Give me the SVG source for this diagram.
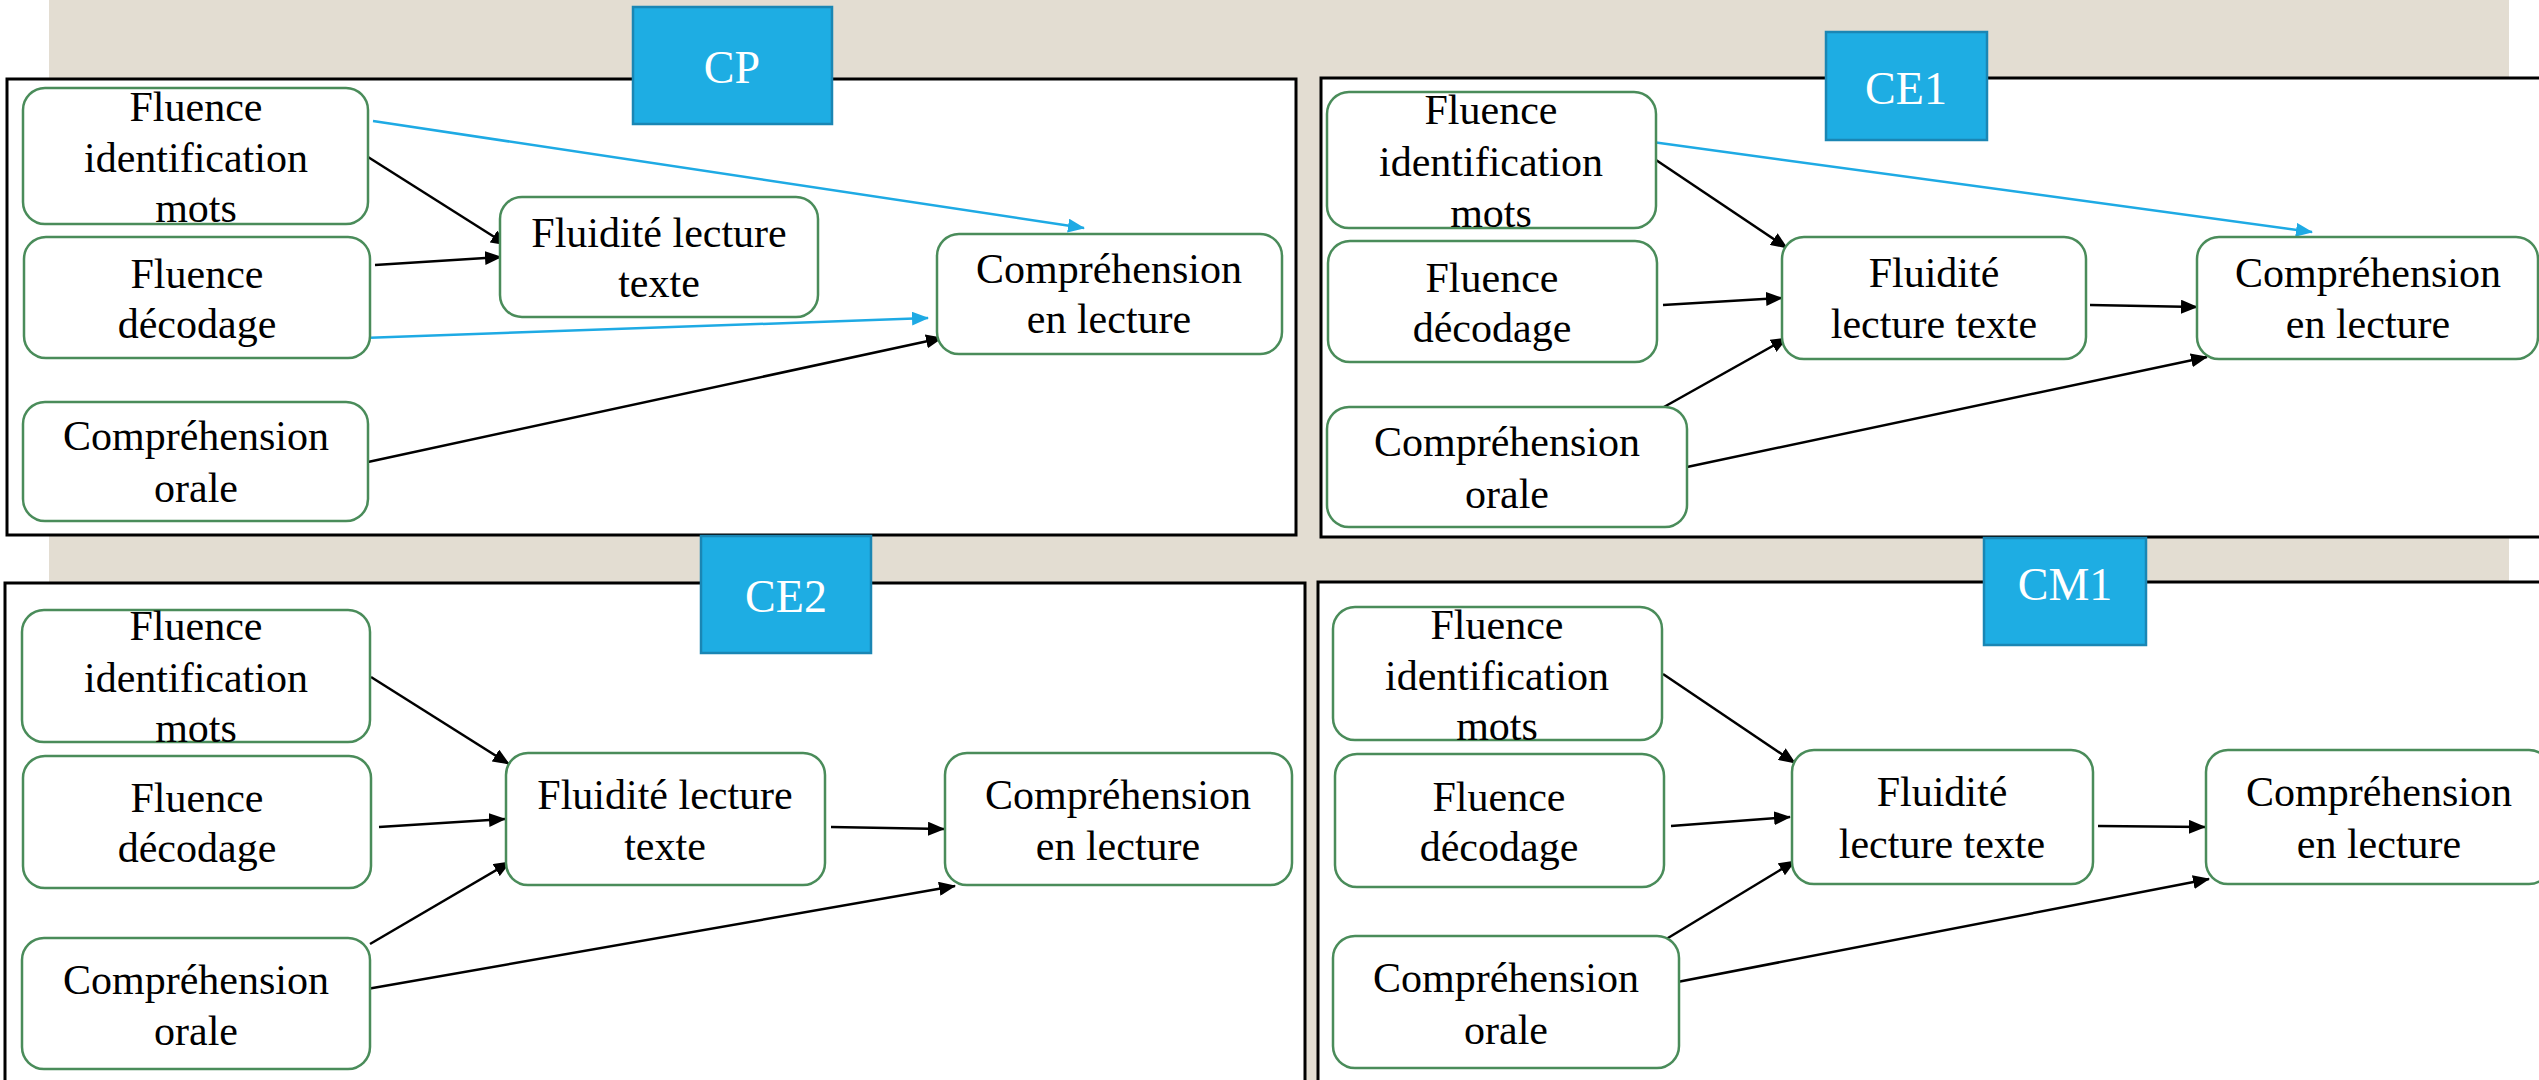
<svg xmlns="http://www.w3.org/2000/svg" width="2539" height="1080" viewBox="0 0 2539 1080">
<defs>
<style>
.panel{fill:#fff;stroke:#000;stroke-width:3}
.node rect{fill:#fff;stroke:#4A8C5A;stroke-width:2.5}
.node text{font-family:"Liberation Serif","Times New Roman",serif;font-size:42px;fill:#000;text-anchor:middle}
.label rect{fill:#1EADE3;stroke:#1A86B4;stroke-width:2.5}
.label text{font-family:"Liberation Serif","Times New Roman",serif;font-size:46px;fill:#fff;text-anchor:middle}
.k{stroke:#000;stroke-width:2.5;fill:none;marker-end:url(#ak)}
.b{stroke:#1EAAE4;stroke-width:2.5;fill:none;marker-end:url(#ab)}
</style>
<marker id="ak" markerUnits="userSpaceOnUse" markerWidth="18" markerHeight="14" refX="16" refY="7" orient="auto"><path d="M0,0 L17,7 L0,14 z" fill="#000"/></marker>
<marker id="ab" markerUnits="userSpaceOnUse" markerWidth="18" markerHeight="14" refX="16" refY="7" orient="auto"><path d="M0,0 L17,7 L0,14 z" fill="#1EAAE4"/></marker>
</defs>
<rect x="0" y="0" width="2539" height="1080" fill="#fff"/>
<rect x="49" y="0" width="2460" height="1080" fill="#E3DDD2"/>
<g id="panels">
<rect class="panel" x="7" y="79" width="1289" height="456"/>
<rect class="panel" x="1321" y="78" width="1230" height="459"/>
<rect class="panel" x="5" y="583" width="1300" height="510"/>
<rect class="panel" x="1318" y="582" width="1233" height="510"/>
</g>
<g id="connectors">
<line class="b" x1="373" y1="121" x2="1084" y2="228"/>
<line class="k" x1="368" y1="157" x2="507" y2="245"/>
<line class="k" x1="375" y1="265" x2="501" y2="257"/>
<line class="b" x1="363" y1="338" x2="928" y2="318"/>
<line class="k" x1="368" y1="462" x2="942" y2="338"/>
<line class="b" x1="1645" y1="141" x2="2312" y2="232"/>
<line class="k" x1="1656" y1="160" x2="1787" y2="248"/>
<line class="k" x1="1663" y1="305" x2="1782" y2="298"/>
<line class="k" x1="1655" y1="412" x2="1787" y2="338"/>
<line class="k" x1="1687" y1="467" x2="2207" y2="357"/>
<line class="k" x1="2090" y1="305" x2="2197" y2="307"/>
<line class="k" x1="371" y1="677" x2="509" y2="764"/>
<line class="k" x1="379" y1="827" x2="505" y2="819"/>
<line class="k" x1="370" y1="944" x2="510" y2="862"/>
<line class="k" x1="367" y1="989" x2="955" y2="886"/>
<line class="k" x1="831" y1="827" x2="944" y2="829"/>
<line class="k" x1="1663" y1="674" x2="1795" y2="763"/>
<line class="k" x1="1671" y1="826" x2="1790" y2="817"/>
<line class="k" x1="1663" y1="941" x2="1795" y2="861"/>
<line class="k" x1="1667" y1="984" x2="2209" y2="879"/>
<line class="k" x1="2098" y1="826" x2="2205" y2="827"/>
</g>
<!-- CP -->
<g id="cp-fim" class="node"><rect x="23" y="88" width="345" height="136" rx="22"/><text x="196" y="121">Fluence</text><text x="196" y="172">identification</text><text x="196" y="222">mots</text></g>
<g id="cp-fd" class="node"><rect x="24" y="237" width="346" height="121" rx="22"/><text x="197" y="288">Fluence</text><text x="197" y="338">décodage</text></g>
<g id="cp-co" class="node"><rect x="23" y="402" width="345" height="119" rx="22"/><text x="196" y="450">Compréhension</text><text x="196" y="502">orale</text></g>
<g id="cp-flu" class="node"><rect x="500" y="197" width="318" height="120" rx="22"/><text x="659" y="247">Fluidité lecture</text><text x="659" y="297">texte</text></g>
<g id="cp-comp" class="node"><rect x="937" y="234" width="345" height="120" rx="22"/><text x="1109" y="283">Compréhension</text><text x="1109" y="333">en lecture</text></g>
<g id="cp-label" class="label"><rect x="633" y="7" width="199" height="117"/><text x="732" y="83">CP</text></g>
<!-- CE1 -->
<g id="ce1-fim" class="node"><rect x="1327" y="92" width="329" height="136" rx="22"/><text x="1491" y="124">Fluence</text><text x="1491" y="176">identification</text><text x="1491" y="227">mots</text></g>
<g id="ce1-fd" class="node"><rect x="1328" y="241" width="329" height="121" rx="22"/><text x="1492" y="292">Fluence</text><text x="1492" y="342">décodage</text></g>
<g id="ce1-co" class="node"><rect x="1327" y="407" width="360" height="120" rx="22"/><text x="1507" y="456">Compréhension</text><text x="1507" y="508">orale</text></g>
<g id="ce1-flu" class="node"><rect x="1782" y="237" width="304" height="122" rx="22"/><text x="1934" y="287">Fluidité</text><text x="1934" y="338">lecture texte</text></g>
<g id="ce1-comp" class="node"><rect x="2197" y="237" width="341" height="122" rx="22"/><text x="2368" y="287">Compréhension</text><text x="2368" y="338">en lecture</text></g>
<g id="ce1-label" class="label"><rect x="1826" y="32" width="161" height="108"/><text x="1906" y="104">CE1</text></g>
<!-- CE2 -->
<g id="ce2-fim" class="node"><rect x="22" y="610" width="348" height="132" rx="22"/><text x="196" y="640">Fluence</text><text x="196" y="692">identification</text><text x="196" y="742">mots</text></g>
<g id="ce2-fd" class="node"><rect x="23" y="756" width="348" height="132" rx="22"/><text x="197" y="812">Fluence</text><text x="197" y="862">décodage</text></g>
<g id="ce2-co" class="node"><rect x="22" y="938" width="348" height="131" rx="22"/><text x="196" y="994">Compréhension</text><text x="196" y="1045">orale</text></g>
<g id="ce2-flu" class="node"><rect x="506" y="753" width="319" height="132" rx="22"/><text x="665" y="809">Fluidité lecture</text><text x="665" y="860">texte</text></g>
<g id="ce2-comp" class="node"><rect x="945" y="753" width="347" height="132" rx="22"/><text x="1118" y="809">Compréhension</text><text x="1118" y="860">en lecture</text></g>
<g id="ce2-label" class="label"><rect x="701" y="536" width="170" height="117"/><text x="786" y="612">CE2</text></g>
<!-- CM1 -->
<g id="cm1-fim" class="node"><rect x="1333" y="607" width="329" height="133" rx="22"/><text x="1497" y="639">Fluence</text><text x="1497" y="690">identification</text><text x="1497" y="740">mots</text></g>
<g id="cm1-fd" class="node"><rect x="1335" y="754" width="329" height="133" rx="22"/><text x="1499" y="811">Fluence</text><text x="1499" y="861">décodage</text></g>
<g id="cm1-co" class="node"><rect x="1333" y="936" width="346" height="132" rx="22"/><text x="1506" y="992">Compréhension</text><text x="1506" y="1044">orale</text></g>
<g id="cm1-flu" class="node"><rect x="1792" y="750" width="301" height="134" rx="22"/><text x="1942" y="806">Fluidité</text><text x="1942" y="858">lecture texte</text></g>
<g id="cm1-comp" class="node"><rect x="2206" y="750" width="345" height="134" rx="22"/><text x="2379" y="806">Compréhension</text><text x="2379" y="858">en lecture</text></g>
<g id="cm1-label" class="label"><rect x="1984" y="538" width="162" height="107"/><text x="2065" y="600">CM1</text></g>
</svg>
